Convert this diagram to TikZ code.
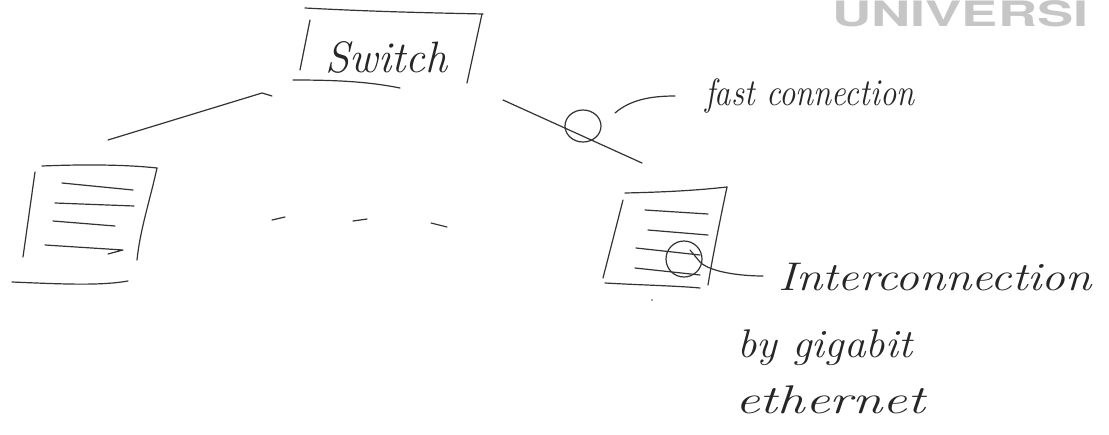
\documentclass[tikz,border=0pt]{standalone}
\usepackage{fontspec}
\newfontfamily\wmfont{TeX Gyre Heros}
\begin{document}
\begin{tikzpicture}[x=1pt,y=-1pt,
  pen/.style={line width=1.2pt, draw=black!80, line cap=round, line join=round},
  hand/.style={anchor=base west, inner sep=0pt, text=black!85, font=\itshape\fontsize{40}{44}\selectfont}]
\useasboundingbox (0,0) rectangle (1109,434);
% watermark
\node[anchor=base west, inner sep=0pt, xscale=1.55, font=\wmfont\bfseries\fontsize{35}{35}\selectfont, text=gray!45] (wm) at (832,26) {UNIVERSI};
% switch box
\draw[pen] (305,8) .. controls (380,12) and (440,13) .. (483,14);
\draw[pen] (310,20) -- (300,70);
\draw[pen] (482,14) -- (467,83);
\draw[pen] (293,80) .. controls (340,80) and (370,82) .. (400,88);
\node[hand, font=\itshape\fontsize{44}{46}\selectfont] (sw) at (325,72) {Switch};
\coordinate (swL) at (262,93);
\coordinate (swR) at (503,100);
% left server
\draw[pen] (42,166) .. controls (90,164) and (130,165) .. (157,168);
\draw[pen] (35,172) -- (23,257);
\draw[pen] (157,168) .. controls (150,200) and (140,230) .. (137,260);
\draw[pen] (62,183) -- (133,190);
\draw[pen] (55,203) -- (134,206);
\draw[pen] (53,221) -- (115,226);
\draw[pen] (45,245) -- (123,250) -- (108,254);
\draw[pen] (12,282) .. controls (60,284) and (100,286) .. (128,281);
\coordinate (lsTop) at (108,140);
% line switch - left server
\draw[pen] (lsTop) -- (swL) -- (272,96);
% dots
\draw[pen] (272,220) -- (285,217);
\draw[pen] (353,221) -- (367,219);
\draw[pen] (431,223) -- (447,227);
% right server
\draw[pen] (625,193) .. controls (670,192) and (700,190) .. (727,187);
\draw[pen] (727,187) .. controls (720,220) and (712,260) .. (708,285);
\draw[pen] (623,200) -- (603,278);
\draw[pen] (605,283) .. controls (640,285) and (680,286) .. (700,288);
\draw[pen] (645,210) -- (708,214);
\draw[pen] (648,230) -- (708,235);
\draw[pen] (636,248) -- (700,255);
\draw[pen] (635,268) -- (700,275);
\coordinate (rsTop) at (642,163);
% line switch - right server with circle
\draw[pen] (swR) -- (rsTop);
\draw[pen] (583,126) ellipse [x radius=18, y radius=16];
\draw[pen] (615,113) .. controls (630,100) and (650,96) .. (675,96);
\node[hand, xscale=0.86, font=\itshape\fontsize{38}{40}\selectfont] (fast) at (705,105) {fast connection};
% interconnection circle
\draw[pen] (684,259) ellipse [x radius=18, y radius=18];
\draw[pen] (690,250) -- (700,262) .. controls (710,272) and (740,276) .. (763,276);
\node[hand, xscale=1.19] (ic) at (778,290) {Interconnection};
\node[hand, xscale=1.08] (gb) at (737,357) {by gigabit};
\node[hand, xscale=1.37] (eth) at (735,413) {ethernet};
\fill[black!70] (652,300) circle (0.9);
\end{tikzpicture}
\end{document}
